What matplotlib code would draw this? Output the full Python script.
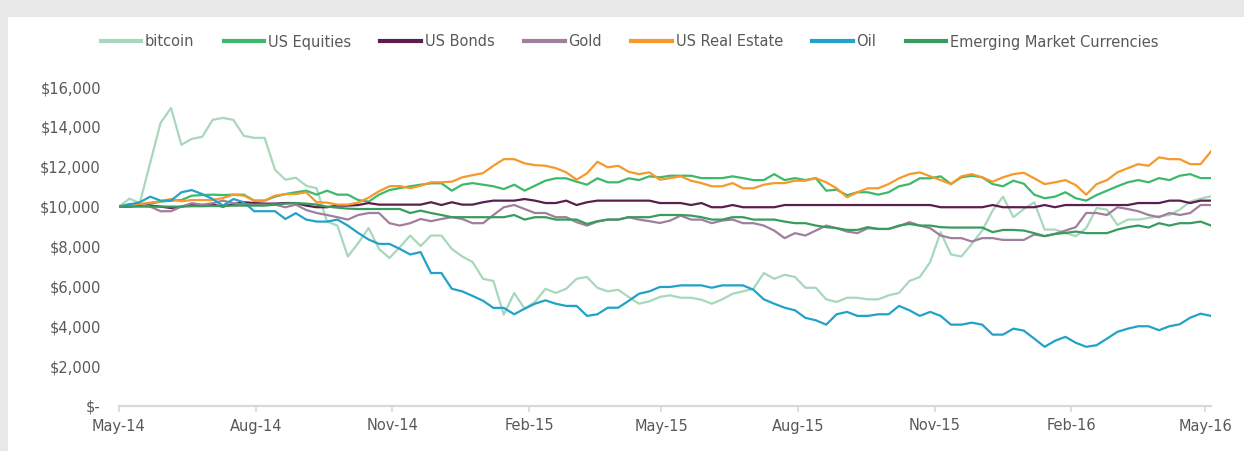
import pandas as pd
import matplotlib
matplotlib.use('Agg')
import matplotlib.pyplot as plt
import matplotlib.dates as mdates
from matplotlib.patches import Rectangle
from matplotlib.ticker import FuncFormatter

# weekly values of $10,000 invested, May-14 .. May-16
dates = pd.date_range('2014-05-01', periods=106, freq='7D')

bitcoin = [
    10000, 10400, 10180, 12200, 14200, 14950, 13100, 13400, 13500, 14350,
    14450, 14350, 13550, 13450, 13450, 11850, 11350, 11450, 11050, 10920,
    9250, 9050, 7500, 8170, 8930, 7880, 7420, 7970, 8550, 8020,
    8550, 8550, 7880, 7500, 7220, 6380, 6270, 4580, 5670, 4880,
    5220, 5880, 5670, 5880, 6380, 6470, 5930, 5750, 5830, 5470,
    5130, 5250, 5470, 5550, 5430, 5430, 5330, 5130, 5350, 5630,
    5750, 5880, 6670, 6380, 6580, 6470, 5930, 5930, 5350, 5220,
    5430, 5430, 5350, 5350, 5550, 5670, 6270, 6470, 7220, 8720,
    7600, 7500, 8130, 8800, 9800, 10500, 9470, 9880, 10220, 8850,
    8850, 8680, 8520, 8920, 9930, 9850, 9080, 9350, 9350, 9430,
    9520, 9580, 9850, 10250, 10400, 10520,
]
us_equities = [
    10000, 10050, 10100, 10150, 10250, 10300, 10330, 10550, 10580, 10600,
    10580, 10600, 10600, 10300, 10300, 10500, 10630, 10720, 10800, 10600,
    10800, 10600, 10600, 10330, 10250, 10600, 10830, 10930, 11020, 11100,
    11170, 11170, 10800, 11100, 11180, 11100, 11020, 10880, 11100, 10800,
    11050, 11300, 11420, 11420, 11250, 11100, 11420, 11220, 11220, 11420,
    11330, 11520, 11470, 11550, 11550, 11550, 11430, 11430, 11430, 11520,
    11430, 11330, 11330, 11630, 11330, 11430, 11330, 11430, 10800, 10850,
    10570, 10720, 10720, 10600, 10720, 11020, 11130, 11420, 11420, 11520,
    11130, 11470, 11550, 11470, 11130, 11020, 11300, 11150, 10600, 10420,
    10500, 10720, 10420, 10300, 10580, 10800, 11020, 11220, 11330, 11220,
    11430, 11330, 11550, 11630, 11430, 11430,
]
us_bonds = [
    10000, 10000, 10050, 10050, 10000, 9930, 10000, 10100, 10050, 10100,
    10000, 10130, 10220, 10180, 10150, 10150, 10180, 10180, 10050, 9970,
    9970, 10050, 10050, 10080, 10180, 10100, 10100, 10100, 10100, 10100,
    10220, 10080, 10220, 10100, 10100, 10220, 10300, 10300, 10300, 10380,
    10300, 10180, 10180, 10300, 10080, 10220, 10300, 10300, 10300, 10300,
    10300, 10300, 10180, 10180, 10180, 10080, 10180, 9970, 9970, 10080,
    9970, 9970, 9970, 9970, 10080, 10080, 10080, 10080, 10080, 10080,
    10080, 10080, 10080, 10080, 10080, 10080, 10080, 10080, 10080, 9970,
    9970, 9970, 9970, 9970, 10080, 9970, 9970, 9970, 9970, 10080,
    9970, 10080, 10080, 10080, 10080, 10080, 10080, 10080, 10180, 10180,
    10180, 10300, 10300, 10180, 10300, 10300,
]
gold = [
    10000, 10130, 10130, 10000, 9770, 9770, 10000, 10170, 10100, 10170,
    10300, 10170, 10100, 10100, 10100, 10100, 9970, 10100, 9830, 9680,
    9580, 9470, 9350, 9580, 9680, 9680, 9170, 9050, 9170, 9380,
    9270, 9380, 9470, 9380, 9170, 9170, 9580, 9970, 10080, 9880,
    9680, 9680, 9470, 9470, 9220, 9050, 9250, 9350, 9350, 9470,
    9350, 9270, 9180, 9300, 9550, 9350, 9350, 9170, 9300, 9350,
    9170, 9170, 9050, 8800, 8420, 8670, 8550, 8800, 9050, 8920,
    8750, 8670, 8920, 8880, 8880, 9020, 9220, 9050, 8920, 8550,
    8420, 8420, 8250, 8420, 8420, 8330, 8330, 8330, 8600, 8520,
    8630, 8800, 8970, 9680, 9680, 9580, 9970, 9880, 9770, 9580,
    9470, 9680, 9580, 9680, 10080, 10080,
]
us_real_estate = [
    10000, 10050, 10130, 10200, 10270, 10380, 10270, 10330, 10330, 10330,
    10430, 10600, 10550, 10300, 10300, 10550, 10630, 10630, 10720, 10220,
    10200, 10100, 10100, 10200, 10450, 10770, 11020, 11030, 10920, 11050,
    11220, 11220, 11250, 11470, 11580, 11680, 12050, 12380, 12380, 12170,
    12080, 12050, 11930, 11720, 11350, 11670, 12250, 11970, 12050, 11750,
    11630, 11720, 11350, 11430, 11520, 11300, 11180, 11020, 11020, 11180,
    10920, 10920, 11100, 11180, 11180, 11300, 11300, 11430, 11220, 10920,
    10470, 10720, 10920, 10920, 11130, 11420, 11630, 11720, 11520, 11330,
    11130, 11520, 11630, 11470, 11250, 11470, 11630, 11700, 11420, 11130,
    11220, 11330, 11080, 10600, 11130, 11330, 11720, 11930, 12130, 12050,
    12470, 12380, 12380, 12130, 12130, 12770,
]
oil = [
    10000, 10100, 10220, 10500, 10300, 10300, 10720, 10830, 10630, 10380,
    10050, 10380, 10220, 9770, 9770, 9770, 9380, 9670, 9350, 9250,
    9250, 9350, 9050, 8680, 8350, 8130, 8130, 7880, 7600, 7720,
    6670, 6670, 5880, 5750, 5520, 5280, 4920, 4920, 4600, 4880,
    5130, 5300, 5130, 5020, 5020, 4520, 4600, 4930, 4930, 5270,
    5630, 5750, 5970, 5970, 6050, 6050, 6050, 5930, 6050, 6050,
    6050, 5830, 5350, 5130, 4930, 4800, 4420, 4300, 4080, 4600,
    4720, 4520, 4520, 4600, 4600, 5020, 4800, 4520, 4720, 4520,
    4080, 4080, 4180, 4080, 3580, 3580, 3880, 3780, 3380, 2970,
    3270, 3470, 3170, 2970, 3050, 3380, 3720, 3880, 4000, 4000,
    3800, 4000, 4100, 4430, 4630, 4520,
]
em_currencies = [
    10000, 10000, 10000, 10000, 10000, 10000, 10000, 10020, 10020, 10030,
    10030, 10050, 10050, 10050, 10050, 10100, 10150, 10180, 10150, 10100,
    10000, 9950, 9900, 9880, 9880, 9880, 9880, 9880, 9680, 9800,
    9680, 9580, 9470, 9470, 9470, 9470, 9470, 9470, 9580, 9350,
    9470, 9470, 9350, 9350, 9350, 9130, 9270, 9350, 9350, 9470,
    9470, 9470, 9580, 9580, 9580, 9550, 9470, 9350, 9350, 9470,
    9470, 9350, 9350, 9350, 9250, 9170, 9170, 9050, 8970, 8920,
    8830, 8830, 8970, 8880, 8880, 9050, 9130, 9050, 9050, 8970,
    8950, 8950, 8950, 8950, 8720, 8830, 8830, 8800, 8670, 8520,
    8630, 8680, 8750, 8670, 8670, 8670, 8850, 8970, 9050, 8950,
    9170, 9050, 9170, 9170, 9250, 9050,
]

series = [
    ('bitcoin', bitcoin, '#a8d8bc'),
    ('US Equities', us_equities, '#3cb96b'),
    ('US Bonds', us_bonds, '#5a1f4e'),
    ('Gold', gold, '#a07f9c'),
    ('US Real Estate', us_real_estate, '#f7982a'),
    ('Oil', oil, '#22a2c9'),
    ('Emerging Market Currencies', em_currencies, '#3a9b5e'),
]

TEXT = '#595959'
AXIS = '#d9d9d9'

fig = plt.figure(figsize=(12.44, 4.51), dpi=100)
fig.patches.append(Rectangle((0, 1 - 17 / 451), 1, 17 / 451, transform=fig.transFigure,
                             facecolor='#e8e8e8', edgecolor='none', zorder=-1))
fig.patches.append(Rectangle((0, 0), 8 / 1244, 1, transform=fig.transFigure,
                             facecolor='#e8e8e8', edgecolor='none', zorder=-1))

ax = fig.add_axes([119 / 1244, 1 - 406 / 451, (1211 - 119) / 1244, (406 - 87) / 451])

for name, values, color in series:
    ax.plot(dates, values, '-', label=name, color=color, linewidth=1.6)

ax.set_ylim(0, 16000)
ax.set_yticks(range(0, 16001, 2000))
ax.yaxis.set_major_formatter(FuncFormatter(lambda v, p: '$-' if v == 0 else '${:,.0f}'.format(v)))

ax.set_xlim(dates[0], dates[-1])
ticks = pd.to_datetime(['2014-05-01', '2014-08-01', '2014-11-01', '2015-02-01', '2015-05-01',
                        '2015-08-01', '2015-11-01', '2016-02-01', '2016-05-01'])
ax.set_xticks(ticks)
ax.xaxis.set_major_formatter(mdates.DateFormatter('%b-%y'))

for s in ['top', 'right', 'left']:
    ax.spines[s].set_visible(False)
ax.spines['bottom'].set_color(AXIS)
ax.spines['bottom'].set_linewidth(1.6)

ax.tick_params(axis='y', length=0, pad=13, labelsize=10.5, labelcolor=TEXT)
ax.tick_params(axis='x', length=4, width=1.2, color=AXIS, pad=5, labelsize=10.5, labelcolor=TEXT)

handles, labels = ax.get_legend_handles_labels()
leg = fig.legend(handles, labels, loc='center', bbox_to_anchor=(629.5 / 1244, 1 - 42 / 451),
                 ncol=7, frameon=False, fontsize=10.5, handlelength=2.8, handletextpad=0.25,
                 columnspacing=2.0)
for line in leg.get_lines():
    line.set_linewidth(3)
for t in leg.get_texts():
    t.set_color(TEXT)

fig.savefig('out.png', dpi=100)
